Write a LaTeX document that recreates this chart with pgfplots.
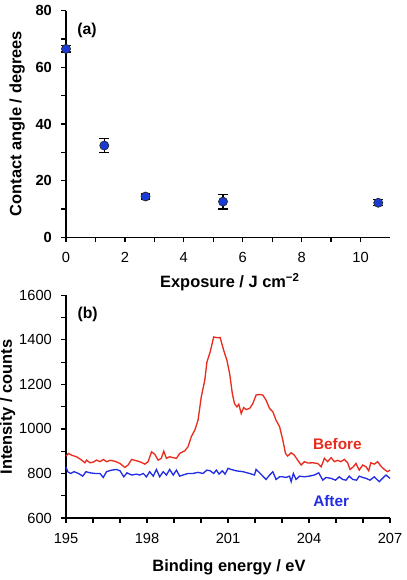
\documentclass[border=0pt]{standalone}
\usepackage{fontspec}
\setmainfont{Liberation Sans}
\usepackage{pgfplots}
\usepackage{pgfplotstable}
\pgfplotsset{compat=1.18}

\definecolor{ptblue}{RGB}{25,60,215}
\definecolor{specred}{RGB}{232,45,30}
\definecolor{specblue}{RGB}{35,45,225}

% contact angle vs. exposure (mean and standard deviation)
\pgfplotstableread{
x     y     e
0     66.5  1.1
1.30  32.4  2.6
2.70  14.4  0.9
5.33  12.6  2.6
10.6  12.2  1.05
}\contactangle

% S 2p region, before exposure
\pgfplotstableread{
E       I
195.00  878
195.09  890
195.21  882
195.39  875
195.58  860
195.70  848
195.76  860
195.89  848
196.01  851
196.13  860
196.26  853
196.38  863
196.50  853
196.63  859
196.81  855
197.00  845
197.18  827
197.30  838
197.43  863
197.61  857
197.73  853
197.92  842
198.04  853
198.17  897
198.29  886
198.41  860
198.53  868
198.62  900
198.72  868
198.84  875
198.97  871
199.09  868
199.21  890
199.40  902
199.52  920
199.64  965
199.77  995
199.89  1039
200.01  1144
200.14  1219
200.22  1301
200.34  1346
200.47  1413
200.59  1410
200.71  1410
200.84  1353
200.96  1308
201.06  1249
201.16  1159
201.24  1114
201.33  1099
201.40  1111
201.49  1069
201.58  1096
201.67  1087
201.80  1092
201.92  1114
202.04  1152
202.17  1155
202.29  1152
202.41  1129
202.54  1092
202.66  1077
202.78  1039
202.91  1010
203.03  950
203.13  890
203.21  878
203.34  893
203.46  882
203.58  860
203.71  838
203.83  853
203.95  847
204.14  848
204.32  845
204.45  830
204.57  868
204.69  853
204.82  871
204.94  853
205.06  859
205.18  853
205.31  863
205.43  848
205.52  818
205.64  830
205.74  845
205.86  815
205.99  838
206.11  830
206.21  812
206.29  848
206.42  842
206.54  853
206.66  833
206.79  818
206.91  808
207.00  815
}\before

% S 2p region, after exposure
\pgfplotstableread{
E       I
195.00  830
195.06  808
195.17  800
195.30  808
195.46  800
195.62  788
195.74  808
195.89  803
196.07  800
196.26  800
196.38  782
196.50  808
196.69  815
196.87  818
197.00  812
197.14  785
197.26  803
197.43  793
197.61  797
197.73  793
197.86  800
197.98  785
198.10  808
198.23  788
198.35  818
198.47  785
198.60  808
198.72  793
198.84  818
198.97  793
199.09  815
199.21  788
199.33  793
199.52  800
199.70  800
199.89  805
200.07  800
200.22  815
200.34  812
200.47  800
200.57  815
200.67  797
200.79  812
200.89  797
201.00  823
201.12  818
201.30  812
201.55  808
201.80  800
201.98  793
202.04  818
202.17  803
202.29  788
202.41  773
202.54  793
202.66  808
202.78  773
202.91  785
203.03  785
203.15  782
203.28  788
203.34  763
203.42  800
203.52  773
203.65  788
203.83  785
204.01  788
204.20  793
204.36  803
204.51  770
204.63  782
204.82  778
204.98  770
205.12  785
205.25  773
205.37  770
205.49  788
205.62  773
205.76  770
205.86  788
205.99  782
206.11  778
206.26  770
206.42  785
206.60  763
206.72  778
206.85  793
207.00  778
}\after

\pgfplotsset{
  panel/.style={
    scale only axis,
    width=243pt,
    axis lines*=left,
    axis line style={line width=0.9pt, -},
    tick style={line width=0.9pt, black},
    tick align=outside,
    major tick length=3.6pt,
    minor tick length=3.6pt,
    tick label style={font=\fontsize{11}{13}\selectfont},
    xticklabel style={yshift=-4pt},
    yticklabel style={xshift=-3.5pt},
    /pgf/number format/assume math mode=true,
    label style={font=\bfseries\fontsize{12.3}{14}\selectfont},
    clip=false,
  },
}

\begin{document}
\begin{tikzpicture}
% (a) contact angle
\begin{axis}[
  panel,
  height=170pt,
  at={(0,0)}, anchor=south west,
  xmin=0, xmax=11, ymin=0, ymax=80,
  xtick={0,2,...,10}, minor xtick={1,3,...,9},
  ytick={0,20,...,80}, minor ytick={10,30,50,70},
  yticklabel style={font=\bfseries\fontsize{11}{13}\selectfont},
  xlabel={Exposure / J cm\textsuperscript{\textminus2}},
  ylabel={Contact angle / degrees},
  xlabel style={at={(axis description cs:0.506,0)}, anchor=center, yshift=-33.5pt},
  ylabel style={at={(axis description cs:-0.151,0.502)}, anchor=center},
]
\addplot[only marks, mark=*, mark size=3.4pt,
  mark options={fill=ptblue, draw=black!85, line width=0.5pt},
  error bars/.cd, y dir=both, y explicit,
  error bar style={line width=0.9pt, black},
  error mark options={rotate=90, mark size=3.6pt, line width=0.9pt, black}]
  table[x=x, y=y, y error=e] {\contactangle};
\node[font=\bfseries\fontsize{11.8}{13}\selectfont] at (axis cs:0.71,72.9) {(a)};
\end{axis}

% (b) XPS spectra
\begin{axis}[
  panel,
  height=167pt,
  at={(0,-210.5pt)}, anchor=south west,
  xmin=195, xmax=207, ymin=600, ymax=1600,
  xtick={195,198,...,207}, minor xtick={196,197,199,200,202,203,205,206},
  ytick={600,800,...,1600}, minor ytick={700,900,...,1500},
  /pgf/number format/.cd, 1000 sep={}, /pgfplots/.cd,
  xlabel={Binding energy / eV},
  ylabel={Intensity / counts},
  xlabel style={at={(axis description cs:0.503,0)}, anchor=center, yshift=-37pt},
  ylabel style={at={(axis description cs:-0.18,0.498)}, anchor=center},
]
\addplot[specred, line width=1pt] table[x=E, y=I] {\before};
\addplot[specblue, line width=1pt] table[x=E, y=I] {\after};
\node[font=\bfseries\fontsize{11.8}{13}\selectfont] at (axis cs:195.8,1515) {(b)};
\node[font=\bfseries\fontsize{11.5}{13}\selectfont, text=specred] at (axis cs:205.05,931) {Before};
\node[font=\bfseries\fontsize{11.5}{13}\selectfont, text=specblue] at (axis cs:204.82,678) {After};
\end{axis}

\pgfresetboundingbox
\useasboundingbox (-49.5pt,-257pt) rectangle (255pt,178pt);
\end{tikzpicture}
\end{document}
